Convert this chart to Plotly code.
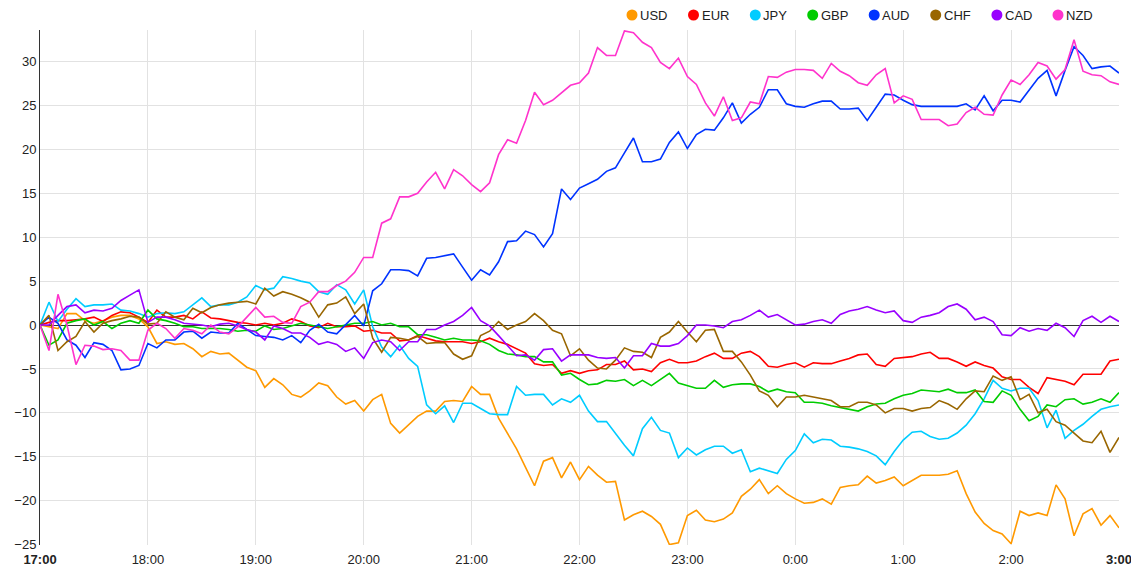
import pandas as pd
import plotly.graph_objects as go

# 5-minute samples, 17:00 -> 3:00
TIMES = pd.date_range("2024-01-01 17:00", periods=121, freq="5min")

TICK_VALS = pd.date_range("2024-01-01 17:00", periods=11, freq="1h")
TICK_TEXT = ["<b>17:00</b>", "18:00", "19:00", "20:00", "21:00", "22:00",
             "23:00", "0:00", "1:00", "2:00", "<b>3:00</b>"]

USD = [0, -0.2, -0.4, 1.3, 1.3, 0.5, 0.2, 0.5, 0.9, 1.1, 1.1, 0.7,
       -0.2, -2.1, -1.9, -2.2, -2.1, -2.7, -3.6, -3.0, -3.3, -3.2, -4.0, -4.8,
       -5.2, -7.1, -6.1, -6.8, -7.9, -8.2, -7.5, -6.6, -6.9, -8.2, -9.0, -8.6,
       -9.8, -8.5, -7.9, -11.2, -12.3, -11.3, -10.4, -9.8, -9.8, -8.7, -8.6, -8.7,
       -7.0, -7.9, -7.9, -10.6, -12.4, -14.1, -16.2, -18.3, -15.5, -15.1, -17.4, -15.6,
       -17.6, -16.1, -17.1, -17.9, -17.8, -22.2, -21.6, -21.2, -21.8, -22.7, -25.0, -24.8,
       -21.7, -21.1, -22.2, -22.4, -22.1, -21.4, -19.5, -18.7, -17.6, -19.2, -18.3, -19.2,
       -19.8, -20.3, -20.2, -19.8, -20.4, -18.5, -18.3, -18.2, -17.2, -18.0, -17.7, -17.3,
       -18.3, -17.7, -17.1, -17.1, -17.1, -17.0, -16.6, -19.2, -21.3, -22.6, -23.4, -23.8,
       -24.9, -21.2, -21.7, -21.4, -21.7, -18.2, -19.8, -24.0, -21.5, -20.9, -22.8, -21.7,
       -23.1]

EUR = [0, 0.3, 0.5, 0.5, 0.6, 0.7, 0.9, 0.4, 1.1, 1.5, 1.4, 0.9,
       0.3, 1.7, 0.9, 0.9, 1.1, 0.7, 1.5, 0.8, 0.7, 0.5, 0.3, 0.2,
       0, 0.2, 0, 0.2, 0.7, 0.4, -0.1, -0.3, 0.2, -0.2, -0.2, -0.1,
       -0.7, -0.6, -0.9, -0.9, -1.8, -1.7, -1.2, -1.5, -1.8, -1.9, -1.9, -1.9,
       -2.1, -1.9, -1.5, -1.9, -2.2, -2.7, -3.2, -4.4, -4.6, -4.5, -5.5, -5.2,
       -5.5, -5.2, -5.1, -4.5, -4.5, -4.1, -5.1, -5.0, -5.3, -4.3, -3.9, -4.3,
       -4.3, -4.1, -3.6, -3.2, -3.8, -3.8, -3.2, -3.0, -3.6, -4.7, -4.8, -4.5,
       -4.3, -4.8, -4.3, -4.4, -4.4, -4.1, -3.8, -3.4, -3.3, -4.5, -4.7, -3.8,
       -3.7, -3.6, -3.3, -3.1, -3.8, -3.8, -4.2, -4.7, -4.2, -4.6, -4.9, -5.9,
       -6.2, -6.2, -7.1, -7.8, -6.0, -6.2, -6.4, -6.8, -5.6, -5.6, -5.6, -4.1,
       -3.9]

JPY = [0, 2.6, 0.4, 1.8, 3.0, 2.1, 2.3, 2.3, 2.4, 1.7, 1.6, 1.3,
       0.9, 1.3, 1.4, 1.3, 1.5, 2.3, 3.1, 2.1, 2.3, 2.3, 2.6, 3.2,
       4.5, 4.0, 4.2, 5.5, 5.3, 5.0, 4.8, 3.8, 3.5, 4.6, 4.0, 2.4,
       4.0, -0.2, -2.5, -3.6, -2.3, -3.8, -4.7, -9.1, -10.1, -9.2, -11.1, -8.9,
       -8.9, -9.5, -10.1, -10.2, -10.2, -7.0, -8.0, -7.9, -7.9, -9.1, -8.4, -8.8,
       -8.0, -9.8, -11.0, -11.0, -12.4, -13.7, -14.9, -11.8, -10.5, -12.0, -12.3, -15.1,
       -14.0, -14.8, -14.2, -13.8, -13.8, -14.6, -14.2, -16.7, -16.3, -16.6, -16.9, -15.3,
       -14.3, -12.4, -13.4, -13.0, -13.1, -13.8, -13.9, -14.1, -14.4, -14.9, -15.9, -14.4,
       -13.1, -12.2, -12.1, -12.7, -13.0, -12.9, -12.3, -11.4, -10.1, -8.4, -6.3, -7.2,
       -7.5, -7.2, -7.2, -8.6, -11.7, -9.7, -12.9, -12.0, -11.3, -10.4, -9.6, -9.3,
       -9.1]

GBP = [0, -2.3, -1.7, 0.2, 0.5, 0.7, 0, 0.4, -0.4, 0.2, 0.5, 0.2,
       1.7, 0.7, 0.5, 0.2, -0.2, -0.2, -0.4, -0.4, -0.4, -0.5, -0.7, -0.6,
       -0.7, -0.1, -0.5, -0.4, -0.1, 0.2, 0, -0.2, -0.4, -0.2, 0, 0.2,
       0.2, 0.4, 0, 0.2, -0.2, -0.2, -1.1, -1.1, -1.4, -1.7, -1.5, -1.7,
       -1.7, -1.8, -2.2, -2.9, -3.3, -3.4, -3.6, -3.6, -4.2, -4.2, -5.7, -5.5,
       -6.2, -6.8, -6.7, -6.3, -6.4, -6.2, -6.9, -6.3, -6.9, -6.2, -5.5, -6.6,
       -6.9, -7.2, -7.2, -6.3, -7.1, -6.8, -6.7, -6.7, -7.0, -7.6, -7.3, -7.6,
       -7.7, -8.8, -8.8, -8.9, -9.2, -9.4, -9.6, -9.8, -9.3, -9.0, -8.9, -8.4,
       -8.0, -7.8, -7.4, -7.5, -7.6, -7.3, -7.7, -7.7, -7.4, -8.7, -8.8, -7.5,
       -8.0, -9.6, -10.9, -10.4, -9.1, -9.3, -8.5, -8.4, -9.0, -8.8, -8.4, -8.8,
       -7.7]

AUD = [0, 0.9, 0.2, -1.7, -2.3, -3.7, -2.0, -2.2, -2.9, -5.1, -5.0, -4.6,
       -2.1, -2.6, -1.7, -1.7, -0.8, -0.7, -1.5, -0.8, -0.9, -0.9, 0.2, -0.5,
       -1.2, -1.3, -1.4, -1.7, -1.2, -2.0, -0.6, 0.1, -0.8, -1.0, 0, 1.1,
       -0.1, 3.9, 4.7, 6.3, 6.3, 6.2, 5.6, 7.6, 7.7, 7.9, 8.1, 6.6,
       5.1, 6.3, 5.7, 7.2, 9.5, 9.6, 10.7, 10.3, 8.9, 10.4, 15.5, 14.3,
       15.6, 16.1, 16.6, 17.5, 17.9, 19.6, 21.3, 18.6, 18.6, 18.9, 20.8, 22.0,
       20.1, 21.7, 22.3, 22.2, 23.6, 25.3, 23.0, 24.0, 24.8, 26.8, 26.8, 25.2,
       24.9, 24.8, 25.2, 25.5, 25.5, 24.6, 24.6, 24.7, 23.3, 24.8, 26.3, 26.2,
       25.6, 25.1, 24.9, 24.9, 24.9, 24.9, 24.9, 25.2, 24.5, 26.1, 24.4, 25.6,
       25.6, 25.4, 26.8, 28.1, 29.0, 26.1, 29.0, 31.7, 30.7, 29.2, 29.4, 29.5,
       28.7]

CHF = [0, 1.1, -2.9, -1.9, -1.3, 0.4, -0.8, 0.2, 0.5, 0.7, 1.0, 0.9,
       0.1, 0.2, 1.5, 0.9, 0.6, 1.9, 1.4, 2.0, 2.3, 2.5, 2.6, 2.7,
       2.4, 4.2, 3.3, 3.8, 3.5, 3.1, 2.6, 0.9, 2.3, 2.5, 3.2, 1.3,
       2.4, -1.5, -3.1, -1.4, -1.5, -1.7, -1.3, -2.1, -2.0, -2.0, -3.3, -3.9,
       -3.5, -1.2, -0.7, 0.4, -0.5, 0, 0.4, 1.3, 0.5, -0.6, -1.0, -3.5,
       -2.7, -4.0, -4.9, -5.0, -4.0, -2.6, -3.0, -3.1, -3.7, -1.4, -0.8, 0.4,
       -0.8, -1.9, -0.6, -0.5, -3.0, -3.0, -4.2, -5.7, -7.5, -8.0, -9.3, -8.2,
       -8.2, -8.0, -8.2, -8.4, -8.6, -9.3, -9.3, -8.8, -8.8, -9.1, -10.0, -9.5,
       -9.5, -9.8, -9.5, -9.4, -8.6, -9.0, -9.6, -8.4, -7.5, -7.6, -5.8, -6.3,
       -5.9, -8.5, -7.9, -10.0, -9.6, -11.0, -11.4, -12.3, -13.2, -13.4, -12.1, -14.5,
       -12.8]

CAD = [0, 0, 1.1, 2.1, 2.3, 1.4, 1.7, 1.6, 1.9, 2.8, 3.4, 4.0,
       0.3, 0.9, 0.9, 0.6, 0.2, 0.1, 0, -0.2, 0.1, 0.2, -0.1, -0.5,
       -0.8, -1.7, -0.1, -0.4, -0.9, -0.9, -1.4, -2.2, -1.9, -2.2, -3.0, -2.6,
       -3.8, -2.0, -1.7, -1.9, -2.9, -1.9, -1.9, -0.5, -0.5, 0, 0.4, 1.1,
       2.0, 0.5, -0.1, -1.2, -2.4, -3.5, -3.4, -4.0, -2.8, -2.7, -4.1, -3.4,
       -3.4, -3.4, -3.7, -3.8, -3.7, -4.9, -3.5, -3.5, -2.1, -2.4, -2.4, -2.1,
       -1.2, 0, 0, -0.1, -0.3, 0.4, 0.6, 1.1, 1.7, 0.9, 1.2, 0.6,
       0, 0.1, 0.4, 0.6, 0.2, 1.2, 1.6, 1.8, 2.1, 1.7, 1.4, 1.6,
       0.5, 0.3, 0.9, 1.1, 1.4, 2.1, 2.4, 1.8, 0.6, 0.9, 0.4, -1.1,
       -1.2, -0.3, -0.7, -0.4, -0.6, 0.2, -0.3, -1.3, 0.5, 1.0, 0.3, 1.0,
       0.4]

NZD = [0, -2.9, 3.5, 0, -4.5, -2.3, -2.4, -2.8, -2.7, -2.9, -4.0, -4.0,
       -0.6, 0.2, -0.4, -1.5, -0.4, -0.6, -1.0, 0, -0.8, -1.0, -0.2, 0.9,
       2.0, 0.9, 1.0, 0.3, 0.2, 2.1, 2.6, 3.8, 3.8, 4.5, 5.0, 6.0,
       7.7, 7.7, 11.6, 12.1, 14.6, 14.6, 15.0, 16.3, 17.4, 15.5, 17.7, 17.0,
       16.0, 15.2, 16.2, 19.4, 21.1, 20.7, 23.3, 26.5, 25.1, 25.6, 26.4, 27.3,
       27.6, 28.7, 31.6, 30.7, 30.7, 33.5, 33.3, 32.2, 31.6, 29.9, 29.2, 30.4,
       28.3, 27.4, 25.3, 23.8, 26.0, 23.3, 23.6, 25.4, 25.2, 28.3, 28.2, 28.8,
       29.1, 29.1, 29.0, 28.1, 29.8, 28.9, 28.4, 27.6, 27.3, 28.5, 29.2, 25.3,
       26.1, 25.7, 23.4, 23.4, 23.4, 22.7, 22.9, 24.2, 24.8, 24.0, 23.9, 26.2,
       27.9, 27.4, 28.5, 29.9, 29.5, 28.0, 29.1, 32.5, 28.9, 28.5, 28.4, 27.7,
       27.4]

SERIES = [
    ("USD", USD, "#FF9900"),
    ("EUR", EUR, "#FF0000"),
    ("JPY", JPY, "#00CCFF"),
    ("GBP", GBP, "#00CC00"),
    ("AUD", AUD, "#0033FF"),
    ("CHF", CHF, "#996600"),
    ("CAD", CAD, "#9900FF"),
    ("NZD", NZD, "#FF33CC"),
]

# page is offset 8px by the html body margin, plot area sits at x 40..1119, y 30..545
PLOT_LEFT, PLOT_W, PLOT_BOTTOM, PLOT_H = 40, 1079, 545, 515
LEGEND_PX = [632, 693.5, 755.3, 812.7, 874.2, 935.7, 996.9, 1058]
LEGEND_PY = 15

fig = go.Figure()

for name, values, color in SERIES:
    fig.add_trace(go.Scatter(x=TIMES, y=values, mode="lines", name=name,
                             showlegend=False,
                             line=dict(color=color, width=1.6)))

# legend: coloured dot + label, drawn above the plot on the right
legend_y = (PLOT_BOTTOM - LEGEND_PY) / PLOT_H
for (name, values, color), px in zip(SERIES, LEGEND_PX):
    lx = (px - PLOT_LEFT) / PLOT_W
    fig.add_shape(type="circle", xref="paper", yref="paper",
                  xsizemode="pixel", ysizemode="pixel",
                  xanchor=lx, yanchor=legend_y,
                  x0=-5.5, x1=5.5, y0=-5.5, y1=5.5,
                  fillcolor=color, line=dict(width=0))
    fig.add_annotation(text=name, xref="paper", yref="paper",
                       x=lx, y=legend_y, xanchor="left", yanchor="middle",
                       xshift=6, showarrow=False,
                       font=dict(size=13, color="#222"))

fig.update_layout(
    width=1131, height=578,
    margin=dict(l=32, r=20, t=22, b=41, autoexpand=False),
    plot_bgcolor="white", paper_bgcolor="white",
    font=dict(family="Arial, Liberation Sans, sans-serif", size=13, color="#222"),
    showlegend=False,
    hovermode="x",
)

fig.update_xaxes(
    range=[TIMES[0], TIMES[-1]],
    tickvals=TICK_VALS, ticktext=TICK_TEXT,
    showgrid=True, gridcolor="#e2e2e2", gridwidth=1,
    showline=False, zeroline=False, ticks="", ticklabelstandoff=5,
)

fig.update_yaxes(
    range=[-25.05, 33.6],
    tickvals=[-25, -20, -15, -10, -5, 0, 5, 10, 15, 20, 25, 30],
    showgrid=True, gridcolor="#e2e2e2", gridwidth=1,
    zeroline=True, zerolinecolor="#333", zerolinewidth=1,
    showline=True, linecolor="#333", linewidth=1, ticks="",
)

fig.write_html("out.html")
